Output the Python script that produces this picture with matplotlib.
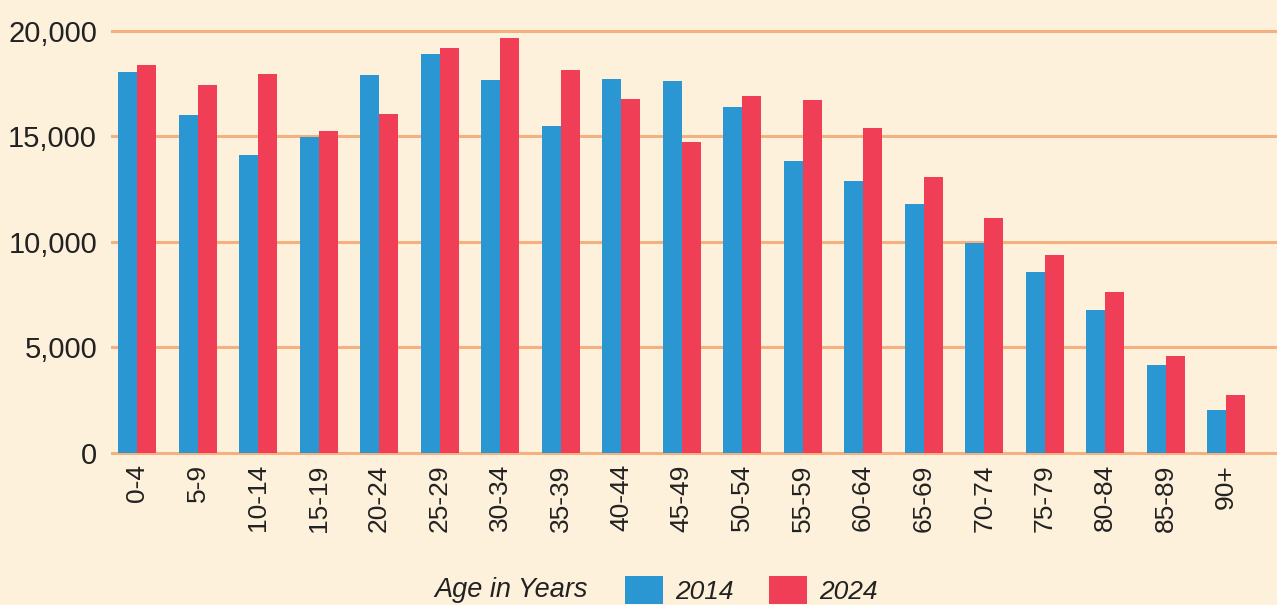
import numpy as np
import matplotlib
matplotlib.use('Agg')
from matplotlib import pyplot as plt

# 数据
age_groups = ['0-4', '5-9', '10-14', '15-19', '20-24', '25-29', '30-34', '35-39',
              '40-44', '45-49', '50-54', '55-59', '60-64', '65-69', '70-74',
              '75-79', '80-84', '85-89', '90+']
pop_2014 = [18050, 16000, 14100, 14950, 17900, 18900, 17650, 15500, 17700,
            17600, 16400, 13800, 12900, 11800, 9950, 8580, 6780, 4170, 2050]
pop_2024 = [18350, 17400, 17950, 15250, 16050, 19150, 19650, 18150, 16750,
            14700, 16900, 16700, 15400, 13080, 11130, 9380, 7630, 4600, 2760]

bg = '#FEF1DC'
blue = '#2A96D2'
red = '#EF3E55'
grid_c = '#F5B07F'
txt = '#222222'

plt.rcParams['font.family'] = ['Liberation Sans', 'DejaVu Sans']

fig = plt.figure(figsize=(12.77, 6.05), dpi=100, facecolor=bg)
ax = fig.add_axes([0.0869, 0.2443, 1 - 0.0869, 0.9565 - 0.2443])
ax.set_facecolor(bg)

x = np.arange(len(age_groups))
w = 0.314
b1 = ax.bar(x - w / 2, pop_2014, w, color=blue, label='2014', zorder=2)
b2 = ax.bar(x + w / 2, pop_2024, w, color=red, label='2024', zorder=2)

ax.set_xlim(-0.43, 18.84)
ax.set_ylim(-200, 20200)
ax.set_yticks([0, 5000, 10000, 15000, 20000])
ax.set_yticklabels(['0', '5,000', '10,000', '15,000', '20,000'])
ax.set_xticks(x)
ax.set_xticklabels(age_groups, rotation=90)

# 网格
ax.grid(axis='y', color=grid_c, linewidth=2.2, zorder=1)
ax.set_axisbelow(True)
for s in ax.spines.values():
    s.set_visible(False)
ax.tick_params(axis='y', length=0, pad=10, labelsize=21, labelcolor=txt)
ax.tick_params(axis='x', length=0, pad=5, labelsize=19, labelcolor=txt)

# 图例
fig.text(588 / 1277, 1 - 590 / 605, 'Age in Years', ha='right', va='center',
         fontsize=19.5, style='italic', color=txt)
fig.legend(handles=[b1, b2], labels=['2014', '2024'], loc='center left',
           bbox_to_anchor=(625 / 1277, 1 - 590 / 605), ncol=2, frameon=False,
           borderpad=0, borderaxespad=0, handlelength=1.44, handleheight=1.3,
           handletextpad=0.45, columnspacing=1.36,
           prop={'size': 19, 'style': 'italic'}, labelcolor=txt)

plt.savefig('out.png', facecolor=bg)
